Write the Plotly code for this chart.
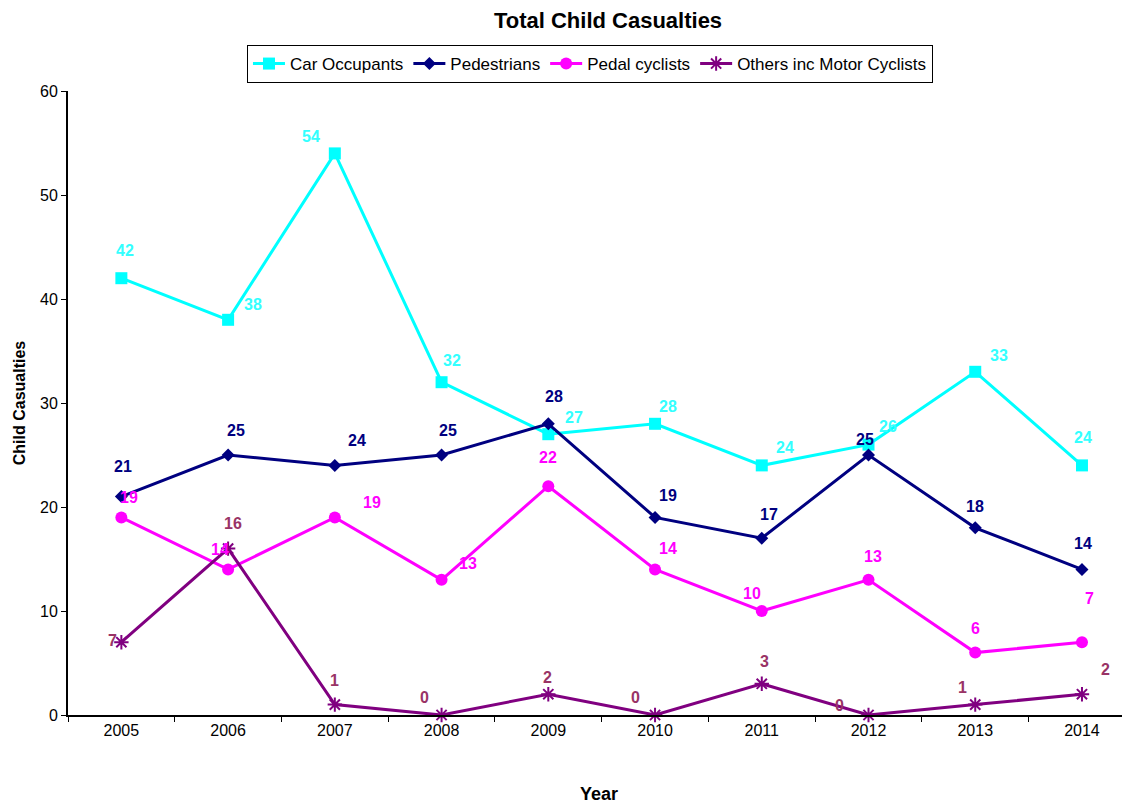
import plotly.graph_objects as go

years = ["2005", "2006", "2007", "2008", "2009", "2010", "2011", "2012", "2013", "2014"]
car_occupants = [42, 38, 54, 32, 27, 28, 24, 26, 33, 24]
pedestrians = [21, 25, 24, 25, 28, 19, 17, 25, 18, 14]
pedal_cyclists = [19, 14, 19, 13, 22, 14, 10, 13, 6, 7]
others = [7, 16, 1, 0, 2, 0, 3, 0, 1, 2]
y_ticks = [0, 10, 20, 30, 40, 50, 60]

# label offset styles in pixels (dx right, dy up), per point
off_car = [(4, 28), (25, 15), (-24, 17), (10, 22), (26, 17),
           (13, 17), (23, 18), (19, 18), (24, 16), (1, 28)]
off_ped = [(2, 30), (8, 25), (22, 25), (6, 25), (6, 27),
           (13, 22), (7, 24), (-4, 16), (0, 21), (1, 26)]
off_pedal = [(8, 20), (-8, 20), (37, 15), (26, 16), (0, 29),
             (13, 21), (-10, 18), (4, 23), (0, 24), (8, 44)]
off_oth = [(-9, 2), (5, 25), (0, 24), (-17, 18), (-1, 17),
           (-20, 18), (3, 22), (-29, 10), (-13, 17), (24, 25)]

FONT = "Liberation Sans, Arial, sans-serif"

fig = go.Figure()
annotations = []

def add(name, vals, color, tcolor, symbol, msize, offs):
    fig.add_trace(go.Scatter(
        x=years, y=vals, name=name, mode="lines+markers",
        line=dict(color=color, width=3),
        marker=dict(symbol=symbol, size=msize, color=color,
                    line=dict(color=color, width=2 if "open" in symbol else 0)),
        cliponaxis=False,
    ))
    for i, (yv, (dx, dy)) in enumerate(zip(vals, offs)):
        annotations.append(dict(
            x=i, y=yv, xref="x", yref="y", text="<b>%d</b>" % yv,
            showarrow=False, xshift=dx, yshift=dy,
            font=dict(family=FONT, size=16, color=tcolor),
        ))

add("Car Occupants", car_occupants, "#00FFFF", "#33FFFF", "square", 12, off_car)
add("Pedestrians", pedestrians, "#000080", "#000080", "diamond", 10, off_ped)
add("Pedal cyclists", pedal_cyclists, "#FF00FF", "#FF00FF", "circle", 12, off_pedal)
add("Others inc Motor Cyclists", others, "#800080", "#993366", "asterisk-open", 12, off_oth)

fig.update_layout(
    width=1130, height=805,
    margin=dict(l=60, r=8, t=83, b=98),
    paper_bgcolor="white", plot_bgcolor="white",
    font=dict(family=FONT, size=15, color="black"),
    title=dict(text="<b>Total Child Casualties</b>", x=0.531, xanchor="center",
               y=0.985, yanchor="middle", font=dict(size=22, family=FONT, color="black")),
    legend=dict(orientation="h", x=0.4915, xanchor="center", y=1.0737, yanchor="top",
                bordercolor="black", borderwidth=1, bgcolor="white",
                font=dict(size=17, family=FONT), itemwidth=32,
                tracegroupgap=0),
    showlegend=True,
    annotations=annotations,
)
fig.update_xaxes(
    type="category", range=[-0.5, 9.45], tickson="boundaries",
    showline=True, linecolor="black", linewidth=2, ticks="outside",
    ticklen=5, tickcolor="black", showgrid=False, zeroline=False,
    title=dict(text="<b>Year</b>", font=dict(size=18), standoff=49),
    tickfont=dict(size=16),
)
fig.update_yaxes(
    range=[0, 60], tickvals=y_ticks, showline=True, linecolor="black",
    linewidth=2, ticks="outside", ticklen=5, tickcolor="black",
    showgrid=False, zeroline=False,
    title=dict(text="<b>Child Casualties</b>", font=dict(size=16), standoff=10),
    tickfont=dict(size=16),
)

fig.write_html("out.html")
